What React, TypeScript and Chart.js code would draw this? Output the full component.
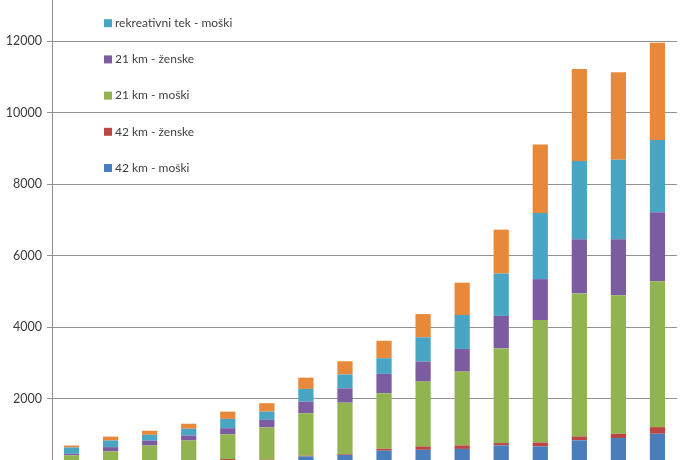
import React, { useEffect, useRef } from "react";
import { Chart, registerables } from "chart.js";

Chart.register(...registerables);

const years = ["1997", "1998", "1999", "2000", "2001", "2002", "2003", "2004", "2005", "2006", "2007", "2008", "2009", "2010", "2011", "2012"];
const m42 = [150, 180, 200, 220, 270, 260, 380, 420, 540, 565, 590, 690, 660, 830, 895, 1015];
const z42 = [20, 20, 20, 25, 40, 30, 20, 20, 55, 95, 100, 65, 110, 110, 120, 185];
const m21 = [240, 320, 465, 580, 690, 900, 1190, 1445, 1555, 1815, 2065, 2650, 3430, 4005, 3880, 4085];
const z21 = [45, 120, 140, 140, 170, 215, 325, 400, 540, 560, 635, 910, 1145, 1515, 1565, 1935];
const recM = [175, 185, 160, 190, 260, 230, 355, 390, 440, 680, 950, 1185, 1850, 2190, 2225, 2020];
const recZ = [55, 110, 115, 140, 205, 235, 315, 370, 490, 650, 905, 1230, 1920, 2580, 2450, 2725];

const seriesLabels = ["42 km - moški", "42 km - ženske", "21 km - moški", "21 km - ženske", "rekreativni tek - moški", "rekreativni tek - ženske"];
const seriesColors = ["#4a7dbb", "#bb4744", "#92b450", "#7b5ca0", "#48a6c4", "#e8883a"];

const FONT = "Lato, 'Liberation Sans', sans-serif";

const insideLegend = {
  id: "insideLegend",
  afterDraw(chart: any) {
    const ctx = chart.ctx;
    const a = chart.chartArea;
    const ds = chart.data.datasets;
    ctx.save();
    ctx.font = `12px ${FONT}`;
    ctx.textBaseline = "middle";
    ctx.textAlign = "left";
    for (let i = ds.length - 1, k = 0; i >= 0; i--, k++) {
      const y = a.top + 17 + k * 36.2;
      ctx.fillStyle = ds[i].backgroundColor;
      ctx.fillRect(a.left + 52, y - 4, 8, 8);
      ctx.fillStyle = "#404040";
      ctx.fillText(ds[i].label, a.left + 63, y);
    }
    ctx.restore();
  },
};

export default function App() {
  const ref = useRef<HTMLCanvasElement>(null);
  useEffect(() => {
    const data = [m42, z42, m21, z21, recM, recZ];
    const chart = new Chart(ref.current!, {
      type: "bar",
      data: {
        labels: years,
        datasets: data.map((d, i) => ({
          label: seriesLabels[i],
          data: d,
          backgroundColor: seriesColors[i],
          borderWidth: 0,
          categoryPercentage: 1,
          barPercentage: 0.39,
        })),
      },
      options: {
        responsive: false,
        animation: false,
        layout: { padding: { top: 30, right: 11, left: 0, bottom: 0 } },
        plugins: { legend: { display: false }, tooltip: { enabled: false }, title: { display: false } },
        scales: {
          x: {
            stacked: true,
            grid: { display: false },
            border: { display: false },
            ticks: { color: "#404040", font: { family: FONT, size: 12 } },
            afterFit: (s: any) => { s.height = 50; },
          },
          y: {
            stacked: true,
            min: 0,
            max: 14000,
            ticks: {
              stepSize: 2000,
              color: "#3a3a3a",
              padding: 5,
              font: { family: FONT, size: 12.5 },
              callback: (v: any) => String(v),
            },
            grid: { color: "#929292", tickLength: 5, lineWidth: 1 },
            border: { color: "#929292", width: 1 },
            afterFit: (s: any) => { s.width = 52; },
          },
        },
      },
      plugins: [insideLegend],
    });
    return () => chart.destroy();
  }, []);
  return (
    <div style={{ position: "fixed", left: 0, top: 0, width: 688, height: 460, overflow: "hidden", background: "#fff" }}>
      <canvas ref={ref} width={688} height={580} style={{ position: "absolute", left: 0, top: -60, display: "block" }} />
    </div>
  );
}
